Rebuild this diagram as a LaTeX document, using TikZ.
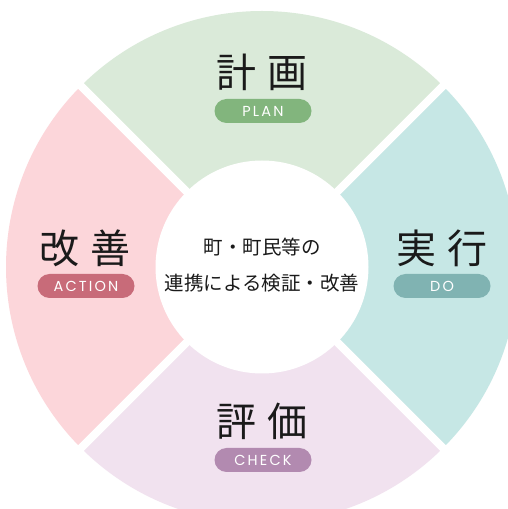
\documentclass[tikz,border=0pt]{standalone}
\usepackage{fontspec}
\newfontfamily\jp{Noto Sans CJK JP}
\newfontfamily\pillfont[LetterSpace=15]{Poppins}
\usetikzlibrary{calc}
\definecolor{secplan}{HTML}{DAEAD9}
\definecolor{secdo}{HTML}{C6E7E5}
\definecolor{seccheck}{HTML}{F1E2EF}
\definecolor{secact}{HTML}{FCD6DA}
\definecolor{pillplan}{HTML}{82B57D}
\definecolor{pilldo}{HTML}{80B3B2}
\definecolor{pillcheck}{HTML}{B28AB0}
\definecolor{pillact}{HTML}{C86B79}
\definecolor{ink}{HTML}{1A1A1A}
\tikzset{
  bigtitle/.style={text=ink, font=\jp\fontsize{40}{44}\selectfont, inner sep=0pt, anchor=center},
  pill/.style={rounded corners=12pt, minimum width=97pt, minimum height=24pt, inner sep=0pt,
    text=white, font=\pillfont\fontsize{14.5}{15}\selectfont, anchor=center},
  hubtext/.style={text=ink, font=\jp\fontsize{19.5}{22}\selectfont, inner sep=0pt, anchor=center},
  gap/.style={white, line width=8pt}
}
\begin{document}
\begin{tikzpicture}[x=1pt,y=1pt]
\useasboundingbox (0,0) rectangle (508,509);
\clip (0,0) rectangle (508,509);
\fill[white] (0,0) rectangle (508,509);
\coordinate (C) at (262,242);
\def\R{256}
% sectors
\fill[secplan]  (C) -- ++(45:\R)  arc[start angle=45,  end angle=135, radius=\R] -- cycle;
\fill[secact]   (C) -- ++(135:\R) arc[start angle=135, end angle=225, radius=\R] -- cycle;
\fill[seccheck] (C) -- ++(225:\R) arc[start angle=225, end angle=315, radius=\R] -- cycle;
\fill[secdo]    (C) -- ++(315:\R) arc[start angle=315, end angle=405, radius=\R] -- cycle;
% gaps
\coordinate (g1) at ($(C)+(45:300)$);
\coordinate (g2) at ($(C)+(225:300)$);
\coordinate (g3) at ($(C)+(135:300)$);
\coordinate (g4) at ($(C)+(315:300)$);
\draw[gap] (g1) -- (g2);
\draw[gap] (g3) -- (g4);
% hub
\node[circle, fill=white, minimum size=213pt, inner sep=0pt] (hub) at (C) {};
\node[hubtext] (hub1) at (262,262) {町・町民等の};
\node[hubtext] (hub2) at (262,226) {連携による検証・改善};
% titles
\node[bigtitle] (plan) at (262,437) {計\hspace{11pt}画};
\node[pill, fill=pillplan] (planpill) at (263,398) {PLAN};
\node[bigtitle] (act) at (85,261) {改\hspace{11pt}善};
\node[pill, fill=pillact] (actpill) at (86,223) {ACTION};
\node[bigtitle] (do) at (442,261) {実\hspace{11pt}行};
\node[pill, fill=pilldo] (dopill) at (442,223) {DO};
\node[bigtitle] (check) at (262,88) {評\hspace{11pt}価};
\node[pill, fill=pillcheck] (checkpill) at (263,49) {CHECK};
\end{tikzpicture}
\end{document}
